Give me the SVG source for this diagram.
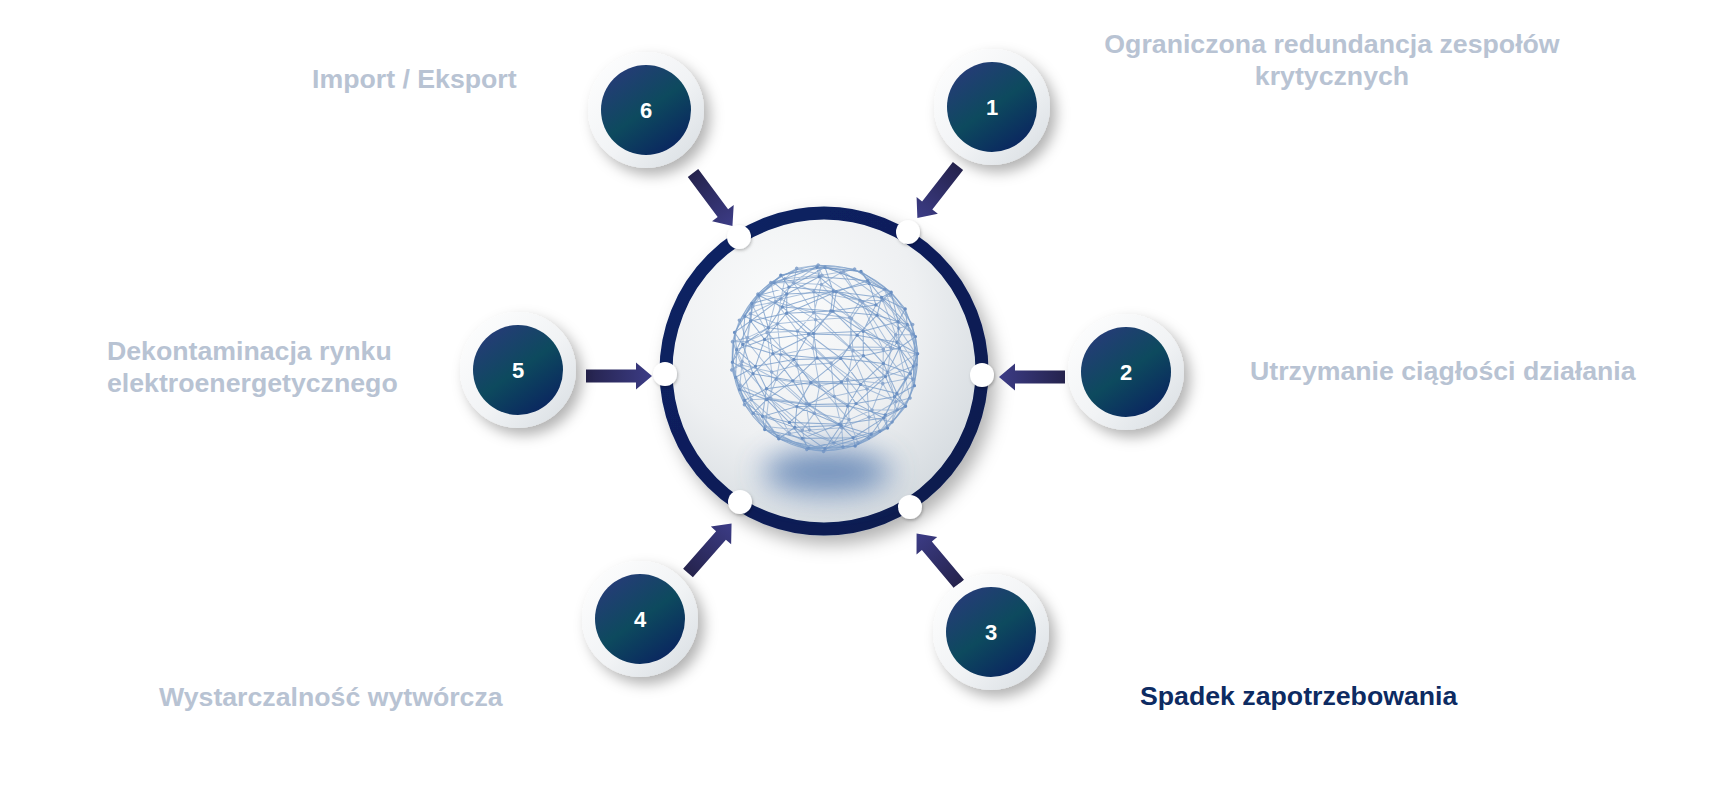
<svg xmlns="http://www.w3.org/2000/svg" width="1717" height="801" viewBox="0 0 1717 801">
<defs>
<style>
.lbl{font-family:"Liberation Sans",Arial,sans-serif;font-weight:bold;font-size:26.7px;fill:#b8c3d3}
.act{fill:#0d2b62}
.num{font-family:"Liberation Sans",Arial,sans-serif;font-weight:bold;font-size:22px;fill:#fff;text-anchor:middle}
.mesh{fill:none;stroke:#7b9dc9;stroke-width:.011;stroke-opacity:.8}
.dots{fill:none;stroke:#6a8fc2;stroke-width:.036;stroke-linecap:round}
</style>
<linearGradient id="gOuter" x1="0" y1="0" x2="1" y2="1">
<stop offset="0" stop-color="#ffffff"/><stop offset="0.55" stop-color="#f1f3f5"/><stop offset="1" stop-color="#d6dce1"/>
</linearGradient>
<linearGradient id="gInner" x1="0.15" y1="0" x2="0.85" y2="1">
<stop offset="0" stop-color="#283a7a"/><stop offset="0.5" stop-color="#0d4a5e"/><stop offset="1" stop-color="#0a2160"/>
</linearGradient>
<linearGradient id="gArrow" x1="0" y1="0" x2="1" y2="0">
<stop offset="0" stop-color="#25234d"/><stop offset="1" stop-color="#3c3c86"/>
</linearGradient>
<radialGradient id="gDisc" cx="0.38" cy="0.3" r="0.75">
<stop offset="0" stop-color="#fbfcfc"/><stop offset="0.55" stop-color="#eef0f2"/><stop offset="1" stop-color="#d3d9de"/>
</radialGradient>
<linearGradient id="gRing" x1="0" y1="0" x2="1" y2="1">
<stop offset="0" stop-color="#0b2266"/><stop offset="1" stop-color="#0a1a4c"/>
</linearGradient>
<filter id="sh" x="-40%" y="-40%" width="190%" height="190%">
<feDropShadow dx="6" dy="7" stdDeviation="7" flood-color="#000" flood-opacity="0.3"/>
</filter>
<filter id="shBig" x="-20%" y="-20%" width="150%" height="150%">
<feDropShadow dx="7" dy="9" stdDeviation="9" flood-color="#000" flood-opacity="0.3"/>
</filter>
<filter id="shDot" x="-50%" y="-50%" width="200%" height="200%">
<feDropShadow dx="1" dy="1.5" stdDeviation="1.5" flood-color="#000" flood-opacity="0.25"/>
</filter>
<filter id="blur" x="-60%" y="-100%" width="220%" height="300%">
<feGaussianBlur stdDeviation="15"/>
</filter>
<path id="arrow" d="M0 -6.5H50V-13.5L66 0L50 13.5V6.5H0Z" fill="url(#gArrow)"/>
<g id="node">
<circle r="58" fill="url(#gOuter)" filter="url(#sh)"/>
<circle r="45" fill="url(#gInner)"/>
</g>
<g id="sphere">
<path class="mesh" d="M.087 -.709L.470 -.793L.383 -.920L-.087 -.965L-.470 -.881L-.383 -.754Z
M.062 -.501L.542 -.565L.704 -.699L.455 -.823L-.062 -.865L-.542 -.801L-.704 -.667L-.455 -.543Z
M.406 -.285L.778 -.385L.853 -.522L.602 -.644L.120 -.705L-.406 -.681L-.778 -.581L-.853 -.444L-.602 -.322L-.120 -.261Z
M.408 -.024L.791 -.107L.962 -.228L.875 -.356L.554 -.455L.084 -.499L-.408 -.476L-.791 -.393L-.962 -.272L-.875 -.144L-.554 -.045L-.084 -.001Z
M.174 .255L.643 .198L.940 .089L.985 -.045L.766 -.167L.342 -.243L-.174 -.255L-.643 -.198L-.940 -.089L-.985 .045L-.766 .167L-.342 .243Z
M.330 .485L.740 .411L.951 .294L.908 .165L.621 .058L.168 .004L-.330 .015L-.740 .089L-.951 .206L-.908 .336L-.621 .442L-.168 .496Z
M.623 .639L.857 .514L.765 .378L.379 .281L-.151 .262L-.623 .327L-.857 .452L-.765 .588L-.379 .685L.151 .704Z
M.299 .849L.665 .746L.641 .606L.242 .511L-.299 .517L-.665 .620L-.641 .760L-.242 .855Z
M.321 .936L.492 .814L.171 .715L-.321 .738L-.492 .860L-.171 .959Z"/>
<path class="mesh" d="M0 -.966L.087 -.709M0 -.966L.470 -.793M0 -.966L.383 -.920M0 -.966L-.087 -.965M0 -.966L-.470 -.881M0 -.966L-.383 -.754
M.062 -.501L.087 -.709M.542 -.565L.470 -.793M.542 -.565L.087 -.709M.704 -.699L.470 -.793M.704 -.699L.383 -.920M.455 -.823L.383 -.920M-.062 -.865L-.087 -.965M-.542 -.801L-.470 -.881M-.542 -.801L-.087 -.965M-.704 -.667L-.470 -.881M-.704 -.667L-.383 -.754M-.455 -.543L-.383 -.754M-.455 -.543L.087 -.709
M.406 -.285L.062 -.501M.406 -.285L.542 -.565M.778 -.385L.542 -.565M.778 -.385L.704 -.699M.853 -.522L.704 -.699M.602 -.644L.455 -.823M.602 -.644L.704 -.699M.120 -.705L-.062 -.865M.120 -.705L.455 -.823M-.406 -.681L-.062 -.865M-.406 -.681L-.542 -.801M-.778 -.581L-.542 -.801M-.778 -.581L-.704 -.667M-.853 -.444L-.704 -.667M-.602 -.322L-.455 -.543M-.602 -.322L-.704 -.667M-.120 -.261L.062 -.501M-.120 -.261L-.455 -.543
M.408 -.024L.406 -.285M.791 -.107L.778 -.385M.791 -.107L.406 -.285M.962 -.228L.853 -.522M.962 -.228L.778 -.385M.875 -.356L.853 -.522M.875 -.356L.602 -.644M.554 -.455L.602 -.644M.554 -.455L.120 -.705M.084 -.499L.120 -.705M-.408 -.476L-.406 -.681M-.408 -.476L.120 -.705M-.791 -.393L-.778 -.581M-.791 -.393L-.406 -.681M-.962 -.272L-.853 -.444M-.962 -.272L-.778 -.581M-.875 -.144L-.853 -.444M-.875 -.144L-.602 -.322M-.554 -.045L-.602 -.322M-.554 -.045L-.120 -.261M-.084 -.001L-.120 -.261
M.174 .255L-.084 -.001M.174 .255L.408 -.024M.643 .198L.408 -.024M.643 .198L.791 -.107M.940 .089L.791 -.107M.940 .089L.962 -.228M.985 -.045L.962 -.228M.985 -.045L.875 -.356M.766 -.167L.875 -.356M.766 -.167L.554 -.455M.342 -.243L.554 -.455M.342 -.243L.084 -.499M-.174 -.255L.084 -.499M-.174 -.255L-.408 -.476M-.643 -.198L-.408 -.476M-.643 -.198L-.791 -.393M-.940 -.089L-.791 -.393M-.940 -.089L-.962 -.272M-.985 .045L-.962 -.272M-.985 .045L-.875 -.144M-.766 .167L-.875 -.144M-.766 .167L-.554 -.045M-.342 .243L-.554 -.045M-.342 .243L-.084 -.001
M.330 .485L.174 .255M.330 .485L.643 .198M.740 .411L.643 .198M.740 .411L.940 .089M.951 .294L.940 .089M.951 .294L.985 -.045M.908 .165L.985 -.045M.908 .165L.766 -.167M.621 .058L.766 -.167M.621 .058L.342 -.243M.168 .004L.342 -.243M.168 .004L-.174 -.255M-.330 .015L-.174 -.255M-.330 .015L-.643 -.198M-.740 .089L-.643 -.198M-.740 .089L-.940 -.089M-.951 .206L-.940 -.089M-.951 .206L-.985 .045M-.908 .336L-.985 .045M-.908 .336L-.766 .167M-.621 .442L-.766 .167M-.621 .442L-.342 .243M-.168 .496L-.342 .243M-.168 .496L.174 .255
M.623 .639L.740 .411M.623 .639L.330 .485M.857 .514L.951 .294M.857 .514L.740 .411M.765 .378L.908 .165M.765 .378L.621 .058M.379 .281L.621 .058M.379 .281L.168 .004M-.151 .262L-.330 .015M-.151 .262L.168 .004M-.623 .327L-.740 .089M-.623 .327L-.330 .015M-.857 .452L-.951 .206M-.857 .452L-.908 .336M-.765 .588L-.908 .336M-.765 .588L-.621 .442M-.379 .685L-.621 .442M-.379 .685L-.168 .496M.151 .704L.330 .485M.151 .704L-.168 .496
M.299 .849L.151 .704M.299 .849L.623 .639M.665 .746L.857 .514M.665 .746L.623 .639M.641 .606L.765 .378M.641 .606L.857 .514M.242 .511L.379 .281M.242 .511L-.151 .262M-.299 .517L-.151 .262M-.299 .517L-.623 .327M-.665 .620L-.857 .452M-.665 .620L-.623 .327M-.641 .760L-.765 .588M-.242 .855L-.379 .685M-.242 .855L.151 .704
M.321 .936L.299 .849M.321 .936L.665 .746M.492 .814L.665 .746M.492 .814L.641 .606M.171 .715L.242 .511M.171 .715L-.299 .517M-.321 .738L-.299 .517M-.321 .738L-.665 .620M-.492 .860L-.665 .620M-.492 .860L-.641 .760M-.171 .959L-.242 .855M-.171 .959L-.641 .760M-.171 .959L.299 .849
M0 .966L.321 .936M0 .966L.492 .814M0 .966L.171 .715M0 .966L-.321 .738M0 .966L-.492 .860M0 .966L-.171 .959"/>
<path class="dots" d="M0 -.966h0M.087 -.709h0M.470 -.793h0M.383 -.920h0M-.087 -.965h0M-.470 -.881h0M-.383 -.754h0
M.062 -.501h0M.542 -.565h0M.704 -.699h0M.455 -.823h0M-.062 -.865h0M-.542 -.801h0M-.704 -.667h0M-.455 -.543h0
M.406 -.285h0M.778 -.385h0M.853 -.522h0M.602 -.644h0M.120 -.705h0M-.406 -.681h0M-.778 -.581h0M-.853 -.444h0M-.602 -.322h0M-.120 -.261h0
M.408 -.024h0M.791 -.107h0M.962 -.228h0M.875 -.356h0M.554 -.455h0M.084 -.499h0M-.408 -.476h0M-.791 -.393h0M-.962 -.272h0M-.875 -.144h0M-.554 -.045h0M-.084 -.001h0
M.174 .255h0M.643 .198h0M.940 .089h0M.985 -.045h0M.766 -.167h0M.342 -.243h0M-.174 -.255h0M-.643 -.198h0M-.940 -.089h0M-.985 .045h0M-.766 .167h0M-.342 .243h0
M.330 .485h0M.740 .411h0M.951 .294h0M.908 .165h0M.621 .058h0M.168 .004h0M-.330 .015h0M-.740 .089h0M-.951 .206h0M-.908 .336h0M-.621 .442h0M-.168 .496h0
M.623 .639h0M.857 .514h0M.765 .378h0M.379 .281h0M-.151 .262h0M-.623 .327h0M-.857 .452h0M-.765 .588h0M-.379 .685h0M.151 .704h0
M.299 .849h0M.665 .746h0M.641 .606h0M.242 .511h0M-.299 .517h0M-.665 .620h0M-.641 .760h0M-.242 .855h0
M.321 .936h0M.492 .814h0M.171 .715h0M-.321 .738h0M-.492 .860h0M-.171 .959h0M0 .966h0"/>
</g>
</defs>
<rect width="1717" height="801" fill="#ffffff"/>

<g id="center">
<circle cx="824" cy="371" r="158" fill="url(#gDisc)" stroke="url(#gRing)" stroke-width="13" filter="url(#shBig)"/>
<ellipse cx="827" cy="472" rx="64" ry="22" fill="#5b80b3" opacity="0.85" filter="url(#blur)"/>
<g id="globe" transform="translate(825 358) scale(94)">
<circle r=".985" class="mesh" stroke-opacity=".5"/>
<use href="#sphere"/>
<use href="#sphere" transform="rotate(41) scale(-1 1)" opacity="0.75"/>
</g>
<g id="ports" fill="#ffffff" filter="url(#shDot)">
<circle cx="739" cy="237" r="12"/>
<circle cx="908" cy="232" r="12"/>
<circle cx="665" cy="374" r="12"/>
<circle cx="982" cy="375" r="12"/>
<circle cx="740" cy="502" r="12"/>
<circle cx="910" cy="507" r="12"/>
</g>
</g>

<g id="connectors">
<use href="#arrow" transform="translate(958 166) rotate(128)"/>
<use href="#arrow" transform="translate(1065 377) rotate(180)"/>
<use href="#arrow" transform="translate(959 584) rotate(-130)"/>
<use href="#arrow" transform="translate(688 573) rotate(-48.7)"/>
<use href="#arrow" transform="translate(586 376)"/>
<use href="#arrow" transform="translate(693 173) rotate(53.3)"/>
</g>

<g id="node1">
<use href="#node" x="992" y="107"/>
<text class="num" x="992" y="115">1</text>
<text class="lbl" x="1332" y="53" text-anchor="middle">Ograniczona redundancja zespołów</text>
<text class="lbl" x="1332" y="85" text-anchor="middle">krytycznych</text>
</g>
<g id="node2">
<use href="#node" x="1126" y="372"/>
<text class="num" x="1126" y="380">2</text>
<text class="lbl" x="1250" y="380">Utrzymanie ciągłości działania</text>
</g>
<g id="node3">
<use href="#node" x="991" y="632"/>
<text class="num" x="991" y="640">3</text>
<text class="lbl act" x="1140" y="705">Spadek zapotrzebowania</text>
</g>
<g id="node4">
<use href="#node" x="640" y="619"/>
<text class="num" x="640" y="627">4</text>
<text class="lbl" x="159" y="706">Wystarczalność wytwórcza</text>
</g>
<g id="node5">
<use href="#node" x="518" y="370"/>
<text class="num" x="518" y="378">5</text>
<text class="lbl" x="107" y="360">Dekontaminacja rynku</text>
<text class="lbl" x="107" y="392">elektroenergetycznego</text>
</g>
<g id="node6">
<use href="#node" x="646" y="110"/>
<text class="num" x="646" y="118">6</text>
<text class="lbl" x="312" y="88">Import / Eksport</text>
</g>
</svg>
